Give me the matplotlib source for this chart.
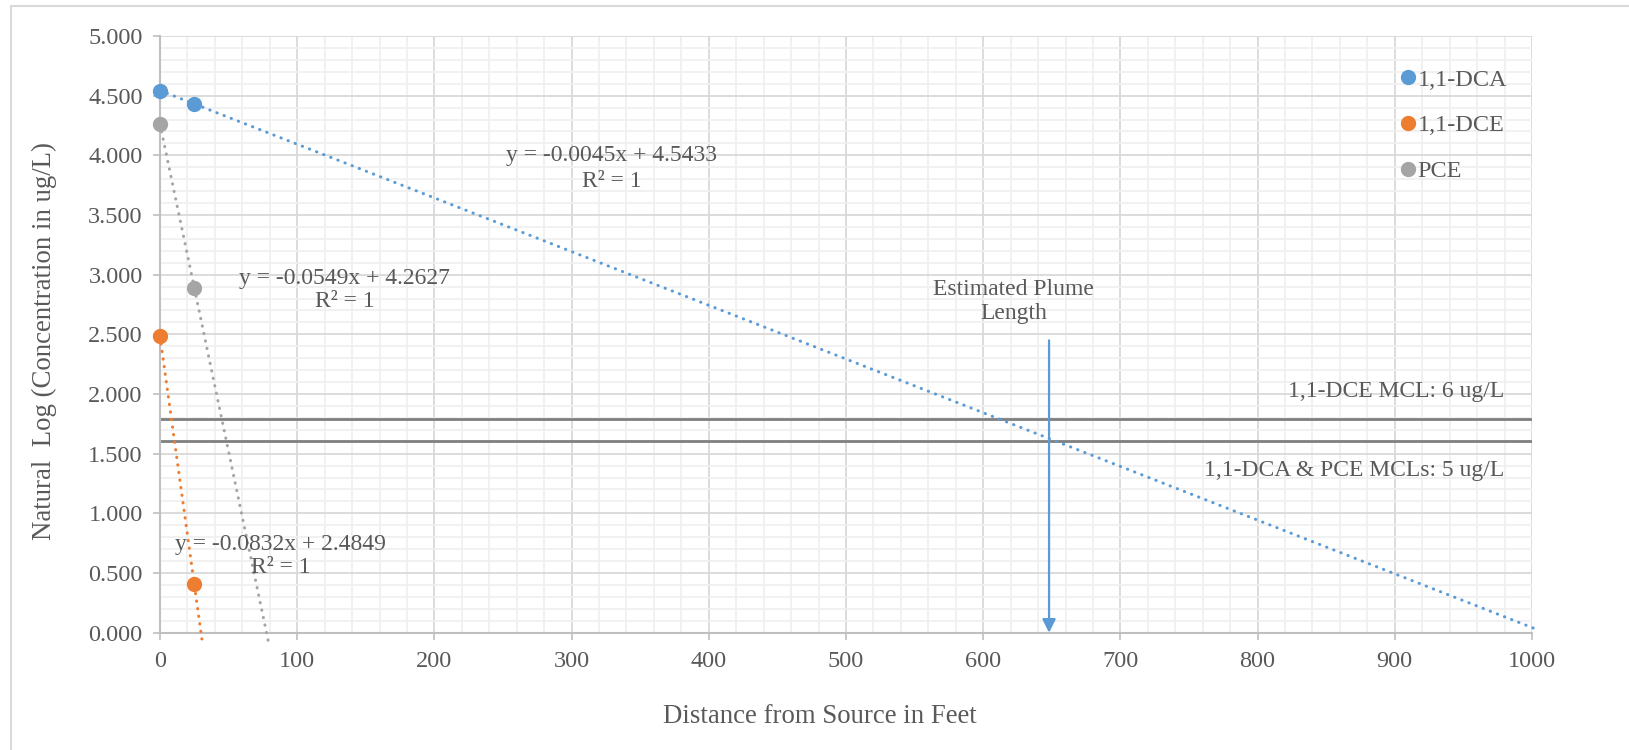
import numpy as np
import matplotlib
matplotlib.use("Agg")
import matplotlib.pyplot as plt
from matplotlib.lines import Line2D

plt.rcParams['font.family'] = ['Liberation Serif', 'DejaVu Serif']
plt.rcParams['font.size'] = 17

# measured points (natural log of concentration)
dist = [0, 25]
dca = [4.5433, 4.4308]
dce = [2.4849, 0.4049]
pce = [4.2627, 2.8902]

# trendline fits as printed on chart
fits = {
    '1,1-DCA': (-0.0045, 4.5433, 1005),
    '1,1-DCE': (-0.0832, 2.4849, 30.5),
    'PCE': (-0.0549, 4.2627, 79),
}
colors = {'1,1-DCA': '#5b9bd5', '1,1-DCE': '#ed7d31', 'PCE': '#a5a5a5'}
series = {'1,1-DCA': dca, '1,1-DCE': dce, 'PCE': pce}

mcl_dce = np.log(6)
mcl_dca_pce = np.log(5)
plume_x = 648

txt = '#595959'

fig = plt.figure(figsize=(16.29, 7.5), dpi=100)
ax = fig.add_axes([160/1629, 1 - 632.7/750, 1372/1629, 596.7/750])

ax.set_xlim(0, 1000)
ax.set_ylim(0, 5)
ax.set_xticks(np.arange(0, 1001, 100))
ax.set_yticks(np.arange(0, 5.01, 0.5))
ax.set_xticks(np.arange(0, 1001, 20), minor=True)
ax.set_yticks(np.arange(0, 5.01, 0.1), minor=True)
ax.set_yticklabels(['%.3f' % v for v in np.arange(0, 5.01, 0.5)])
ax.grid(True, which='major', color='#d9d9d9', lw=1.3, zorder=0)
ax.grid(True, which='minor', color='#f0f0f0', lw=1.3, zorder=0)
ax.set_axisbelow(True)
for s in ['top', 'right']:
    ax.spines[s].set_visible(False)
for s in ['left', 'bottom']:
    ax.spines[s].set_color('#bfbfbf')
    ax.spines[s].set_linewidth(1.5)
ax.tick_params(which='major', color='#bfbfbf', length=5, width=1.2, labelcolor=txt,
               labelsize=17.5)
ax.tick_params(axis='y', pad=7.5)
ax.tick_params(axis='x', pad=8)
ax.tick_params(which='minor', length=0)

# MCL reference lines
ax.axhline(mcl_dce, color='#7f7f7f', lw=2, zorder=2)
ax.axhline(mcl_dca_pce, color='#7f7f7f', lw=2, zorder=2)

# trendlines
for name, (m, b, xend) in fits.items():
    xs = np.array([0, xend])
    ax.plot(xs, m * xs + b, color=colors[name], lw=2.2, linestyle=(0, (0.1, 2.4)),
            dash_capstyle='round', clip_on=False, zorder=3)

# points
for name, vals in series.items():
    ax.plot(dist, vals, 'o', color=colors[name], ms=10, clip_on=False, zorder=4)

# plume arrow
ax.annotate('', xy=(plume_x, 0), xytext=(plume_x, 2.45),
            arrowprops=dict(arrowstyle='-|>', color='#5b9bd5', lw=1.6, mutation_scale=20,
                            shrinkA=0, shrinkB=0), zorder=5)
ax.text(622, 2.774, 'Estimated Plume\nLength', ha='center', va='center', color=txt,
        linespacing=1.15)

# trendline labels
ax.text(329, 3.89, 'y = -0.0045x + 4.5433\nR² = 1', ha='center', va='center', color=txt,
        linespacing=1.35)
ax.text(134.5, 2.874, 'y = -0.0549x + 4.2627\nR² = 1', ha='center', va='center', color=txt,
        linespacing=1.15)
ax.text(87.8, 0.64, 'y = -0.0832x + 2.4849\nR² = 1', ha='center', va='center', color=txt,
        linespacing=1.12)

ax.text(980, 2.02, '1,1-DCE MCL: 6 ug/L', ha='right', va='center', color=txt)
ax.text(980, 1.36, '1,1-DCA & PCE MCLs: 5 ug/L', ha='right', va='center', color=txt)

ax.set_ylabel('Natural  Log (Concentration in ug/L)', color=txt, fontsize=19.3, va='center')
ax.yaxis.set_label_coords(-0.0845, 0.488)
ax.set_xlabel('Distance from Source in Feet', color=txt, fontsize=19.3, va='center')
ax.xaxis.set_label_coords(0.4807, -0.141)

handles = [Line2D([], [], marker='o', ls='', color=colors[n], ms=10) for n in series]
ax.legend(handles, list(series), loc='upper left', bbox_to_anchor=(0.905, 0.945),
          frameon=False, borderpad=0, borderaxespad=0, handlelength=0.5,
          handletextpad=0.15, labelspacing=0.97, labelcolor=txt, fontsize=17.5)

# chart-area border (top and left visible)
fig.add_artist(Line2D([11/1629, 1], [1 - 6/750, 1 - 6/750], color='#d9d9d9', lw=1.5))
fig.add_artist(Line2D([11/1629, 11/1629], [0, 1 - 6/750], color='#d9d9d9', lw=1.5))

fig.savefig('out.png', dpi=100)
